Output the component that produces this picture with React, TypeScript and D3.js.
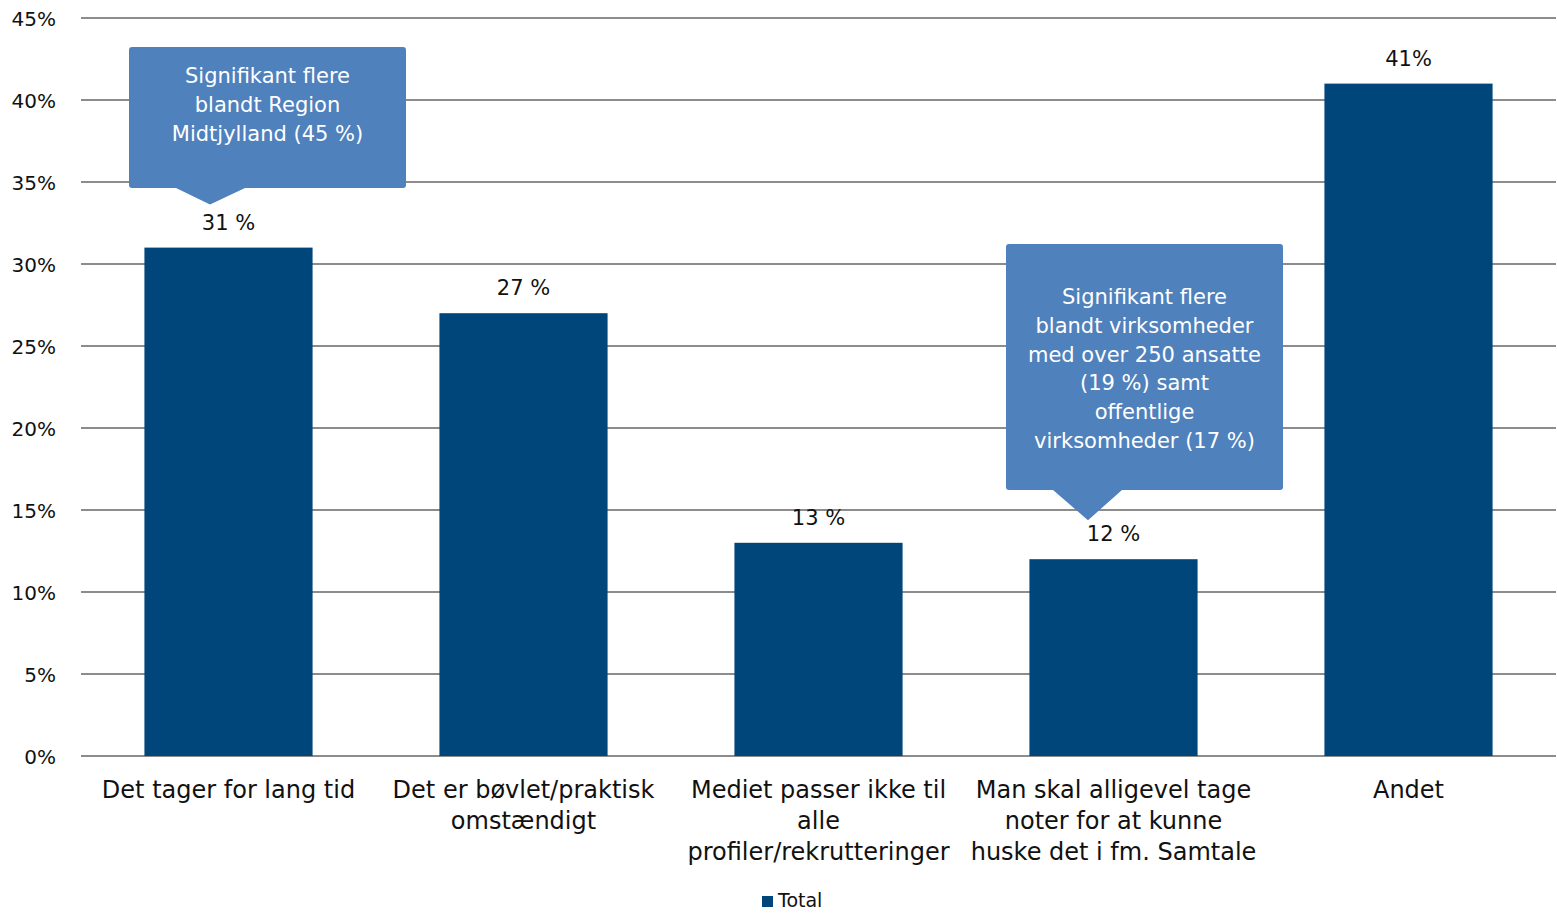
import React from "react";
import * as d3 from "d3";

const categories: string[][] = [
  ["Det tager for lang tid"],
  ["Det er bøvlet/praktisk", "omstændigt"],
  ["Mediet passer ikke til", "alle", "profiler/rekrutteringer"],
  ["Man skal alligevel tage", "noter for at kunne", "huske det i fm. Samtale"],
  ["Andet"],
];
const values = [31, 27, 13, 12, 41];
const valueLabels = ["31 %", "27 %", "13 %", "12 %", "41%"];
const yTicks = [0, 5, 10, 15, 20, 25, 30, 35, 40, 45];
const seriesName = "Total";

const callouts = [
  { index: 0, lines: ["Signifikant flere", "blandt Region", "Midtjylland (45 %)"] },
  {
    index: 3,
    lines: [
      "Signifikant flere",
      "blandt virksomheder",
      "med over 250 ansatte",
      "(19 %) samt",
      "offentlige",
      "virksomheder (17 %)",
    ],
  },
];

const W = 1557;
const H = 913;
const FONT = "'DejaVu Sans', Verdana, sans-serif";
const BAR = "#00467A";
const CALLOUT = "#4F81BD";

export default function App() {
  const x = d3
    .scaleBand<number>()
    .domain(values.map((_, i) => i))
    .range([81, 1556])
    .paddingInner(0.43)
    .paddingOuter(0.215);
  const y = d3.scaleLinear().domain([0, 45]).range([756, 18]);
  const cx = (i: number) => (x(i) as number) + x.bandwidth() / 2;

  // callout box geometry; the pointer stops tipGap px above its bar
  const boxGeom = [
    { left: 129, top: 47, right: 406, bottom: 188, tipX: 210, baseL: 176, baseR: 245, tipGap: 43, textY: 83 },
    { left: 1006, top: 244, right: 1283, bottom: 490, tipX: 1088, baseL: 1053, baseR: 1122, tipGap: 39, textY: 304 },
  ];

  return (
    <svg width={W} height={H} style={{ display: "block", position: "absolute", left: 0, top: 0 }} fontFamily={FONT}>
      <rect width={W} height={H} fill="#fff" />
      {yTicks.map((t) => (
        <g key={t}>
          <line x1={81} x2={1556} y1={y(t)} y2={y(t)} stroke="#8c8c8c" strokeWidth={2} />
          <text x={56} y={y(t) + 8} textAnchor="end" fontSize={20} fill="#111">
            {t}%
          </text>
        </g>
      ))}
      {values.map((v, i) => (
        <rect key={i} x={x(i)} y={y(v)} width={x.bandwidth()} height={y(0) - y(v)} fill={BAR} />
      ))}
      {values.map((v, i) => (
        <text key={i} x={cx(i)} y={y(v) - 18} textAnchor="middle" fontSize={21} fill="#111">
          {valueLabels[i]}
        </text>
      ))}
      {categories.map((lines, i) => (
        <text key={i} textAnchor="middle" fontSize={24} fill="#111">
          {lines.map((l, j) => (
            <tspan key={j} x={cx(i)} y={798 + j * 31}>
              {l}
            </tspan>
          ))}
        </text>
      ))}
      {callouts.map((c, k) => {
        const g = boxGeom[k];
        const tipY = y(values[c.index]) - g.tipGap;
        const path = `M${g.left + 3},${g.top} H${g.right - 3} Q${g.right},${g.top} ${g.right},${g.top + 3} V${g.bottom - 3} Q${g.right},${g.bottom} ${g.right - 3},${g.bottom} H${g.baseR} L${g.tipX},${tipY} L${g.baseL},${g.bottom} H${g.left + 3} Q${g.left},${g.bottom} ${g.left},${g.bottom - 3} V${g.top + 3} Q${g.left},${g.top} ${g.left + 3},${g.top} Z`;
        const midX = (g.left + g.right) / 2;
        const lh = 28.8;
        return (
          <g key={k}>
            <path d={path} fill={CALLOUT} />
            <text textAnchor="middle" fontSize={21} fill="#fff">
              {c.lines.map((l, j) => (
                <tspan key={j} x={midX} y={g.textY + j * lh}>
                  {l}
                </tspan>
              ))}
            </text>
          </g>
        );
      })}
      <rect x={762} y={896} width={11} height={11} fill={BAR} />
      <text x={778} y={907} fontSize={19} fill="#111">
        {seriesName}
      </text>
    </svg>
  );
}
